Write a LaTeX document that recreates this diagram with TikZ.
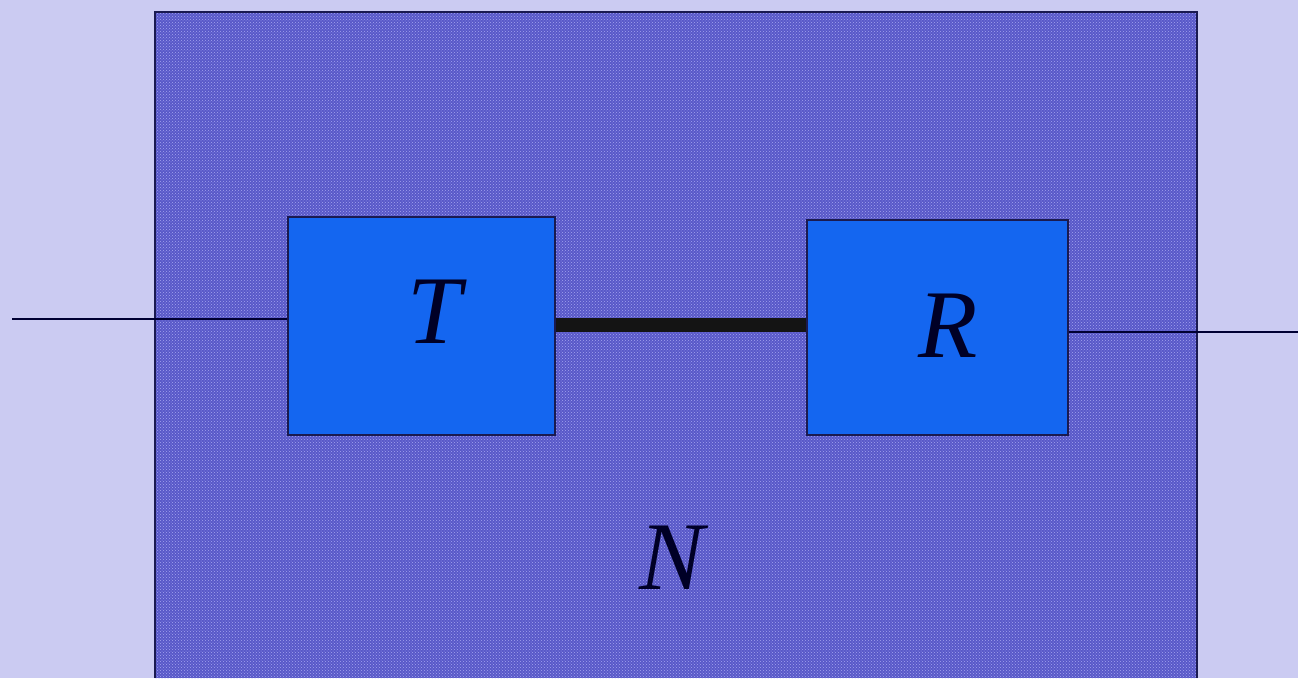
\documentclass[tikz,border=0pt]{standalone}
\usepackage{fontspec}
\setmainfont{Liberation Serif}
\usetikzlibrary{patterns}
\definecolor{bgc}{HTML}{CBCBF2}
\definecolor{netc}{HTML}{5858C8}
\definecolor{dotc}{HTML}{A4A4F0}
\definecolor{boxc}{HTML}{1466F0}
\definecolor{edgec}{HTML}{1A1A50}
\tikzset{
  blk/.style={draw=edgec, line width=1.2pt, fill=boxc, minimum width=#1, inner sep=0pt},
  lbl/.style={font=\fontsize{97}{97}\selectfont\itshape, text=black!85!blue, inner sep=0pt},
  wire/.style={draw=black!80!blue, line width=1.2pt},
  link/.style={draw=black!92, line width=14pt}
}
\begin{document}
\begin{tikzpicture}[x=1pt,y=-1pt]
\fill[bgc] (0,0) rectangle (1298,678);
\useasboundingbox (0,0) rectangle (1298,678);
\fill[netc] (155,12) rectangle (1197,678);
\fill[pattern=crosshatch dots, pattern color=dotc] (155,12) rectangle (1197,678);
\draw[edgec, line width=1.2pt] (155,678) -- (155,12) -- (1197,12) -- (1197,678);
\node[blk=267pt, minimum height=218pt] (T) at (421.5,326) {};
\node[blk=261pt, minimum height=215pt] (R) at (937.5,327.5) {};
\node[lbl] at (434,312) {T};
\node[lbl] at (948,326) {R};
\node[lbl] (N) at (672,558) {N};
\coordinate (inL) at (12,319);
\coordinate (outR) at (1298,332);
\draw[wire] (inL) -- (inL -| T.west);
\draw[wire] (outR -| R.east) -- (outR);
\draw[link] (T.east |- 0,325) -- (R.west |- 0,325);
\end{tikzpicture}
\end{document}
